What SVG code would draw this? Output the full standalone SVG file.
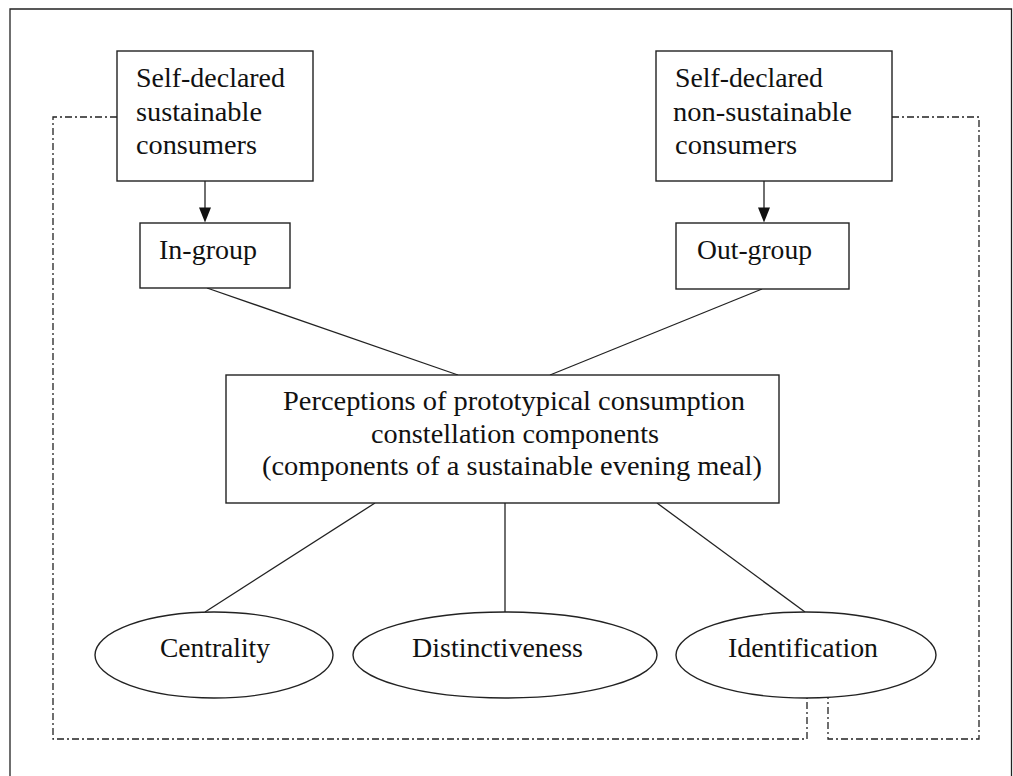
<svg xmlns="http://www.w3.org/2000/svg" width="1013" height="776" viewBox="0 0 1013 776">
<style>
.box{fill:#fff;stroke:#222;stroke-width:1.4}
.ln{fill:none;stroke:#222;stroke-width:1.3}
.dd{fill:none;stroke:#222;stroke-width:1.3;stroke-dasharray:7 3 2 3}
.ah{fill:#111}
text{font-family:"Liberation Serif","Times New Roman",serif;font-size:28px;fill:#111}
</style>
<rect width="1013" height="776" fill="#fff"/>
<path class="ln" d="M10,776 V9 H1011.5 V776"/>
<g id="connectors">
<path class="dd" d="M117,117 H53 V739 H807 V698"/>
<path class="dd" d="M892,117 H979 V739 H828 V698"/>
<line class="ln" x1="205" y1="181" x2="205" y2="210"/>
<polygon class="ah" points="199,207.5 211,207.5 205,222.5"/>
<line class="ln" x1="764" y1="181" x2="764" y2="210"/>
<polygon class="ah" points="758,207.5 770,207.5 764,222.5"/>
<line class="ln" x1="207" y1="288" x2="458" y2="375"/>
<line class="ln" x1="762" y1="289" x2="550" y2="375"/>
<line class="ln" x1="375" y1="503" x2="205" y2="612"/>
<line class="ln" x1="505" y1="503" x2="505" y2="612"/>
<line class="ln" x1="657" y1="503" x2="805" y2="612"/>
</g>
<g id="sustainable">
<rect class="box" x="117" y="51" width="196" height="130"/>
<text x="136" y="87" textLength="149" lengthAdjust="spacingAndGlyphs">Self-declared</text>
<text x="136" y="120.5" textLength="126" lengthAdjust="spacingAndGlyphs">sustainable</text>
<text x="136" y="153.5" textLength="121" lengthAdjust="spacingAndGlyphs">consumers</text>
</g>
<g id="nonsustainable">
<rect class="box" x="656" y="51" width="236" height="130"/>
<text x="675" y="87" textLength="148" lengthAdjust="spacingAndGlyphs">Self-declared</text>
<text x="673" y="120.5" textLength="179" lengthAdjust="spacingAndGlyphs">non-sustainable</text>
<text x="675" y="153.5" textLength="122" lengthAdjust="spacingAndGlyphs">consumers</text>
</g>
<g id="ingroup">
<rect class="box" x="140" y="223" width="150" height="65"/>
<text x="159" y="259" textLength="98" lengthAdjust="spacingAndGlyphs">In-group</text>
</g>
<g id="outgroup">
<rect class="box" x="676" y="223" width="173" height="66"/>
<text x="697" y="259" textLength="115" lengthAdjust="spacingAndGlyphs">Out-group</text>
</g>
<g id="perceptions">
<rect class="box" x="226" y="375" width="553" height="128"/>
<text x="283" y="410" textLength="462" lengthAdjust="spacingAndGlyphs">Perceptions of prototypical consumption</text>
<text x="371" y="443" textLength="288" lengthAdjust="spacingAndGlyphs">constellation components</text>
<text x="262" y="475" textLength="500" lengthAdjust="spacingAndGlyphs">(components of a sustainable evening meal)</text>
</g>
<g id="centrality">
<ellipse class="box" cx="214" cy="655" rx="119" ry="43"/>
<text x="160" y="657" textLength="110" lengthAdjust="spacingAndGlyphs">Centrality</text>
</g>
<g id="distinctiveness">
<ellipse class="box" cx="505" cy="655" rx="152" ry="43"/>
<text x="412" y="657" textLength="171" lengthAdjust="spacingAndGlyphs">Distinctiveness</text>
</g>
<g id="identification">
<ellipse class="box" cx="806" cy="655" rx="130" ry="43"/>
<text x="728" y="657" textLength="150" lengthAdjust="spacingAndGlyphs">Identification</text>
</g>
</svg>
